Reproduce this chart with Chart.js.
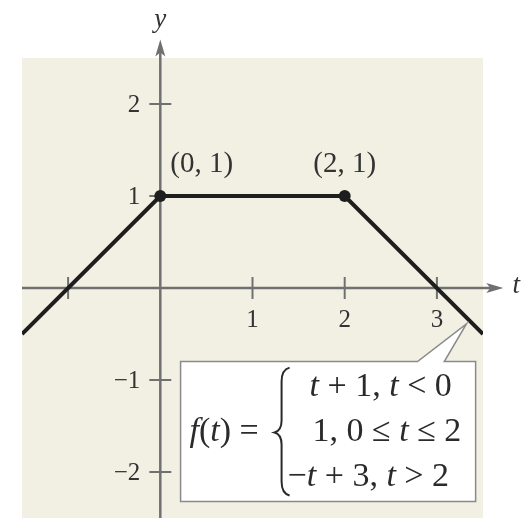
<!DOCTYPE html>
<html>
<head>
<meta charset="utf-8">
<script src="https://cdn.jsdelivr.net/npm/chart.js@4.4.1/dist/chart.umd.min.js"></script>
<style>
  body { margin: 0; background: #fff; }
  #wrap { width: 523px; height: 518px; }
</style>
</head>
<body>
<div id="wrap"><canvas id="graph" width="523" height="518"></canvas></div>
<script>
// piecewise f(t): corner points of the graph
const tValues = [-1.5, 0, 2, 3.5];
const fValues = [-0.5, 1, 1, -0.5];
const dotRadius = [0, 6, 6, 0];

// axis ticks
const xTicks = [-1, 1, 2, 3];
const xTickLabels = ["", "1", "2", "3"];
const yTicks = [2, 1, -1, -2];
const yTickLabels = ["2", "1", "\u22121", "\u22122"];

// labelled points
const pointLabels = ["(0, 1)", "(2, 1)"];
const labelAt = [[0, 1], [2, 1]];

const SERIF = '"Liberation Serif", "DejaVu Serif", serif';
const AXIS = '#707070';
const BG = '#f2f0e3';

// draw a run of [text, italic] pieces starting at x
function drawRuns(ctx, runs, x, y, size) {
  runs.forEach(([txt, it]) => {
    ctx.font = (it ? 'italic ' : '') + size + 'px ' + SERIF;
    ctx.fillText(txt, x, y);
    x += ctx.measureText(txt).width;
  });
}

const decorPlugin = {
  id: 'decor',
  beforeDatasetsDraw(chart) {
    const { ctx, chartArea: a, scales: { x, y } } = chart;
    ctx.save();
    ctx.fillStyle = BG;
    ctx.fillRect(a.left, a.top, a.right - a.left, a.bottom - a.top);

    const x0 = x.getPixelForValue(0);
    const y0 = y.getPixelForValue(0);
    ctx.strokeStyle = AXIS;
    ctx.fillStyle = AXIS;
    ctx.lineWidth = 2.5;

    // x axis with arrow
    const xEnd = x.getPixelForValue(3.72);
    ctx.beginPath();
    ctx.moveTo(a.left, y0);
    ctx.lineTo(xEnd - 10, y0);
    ctx.stroke();
    ctx.beginPath();
    ctx.moveTo(xEnd, y0);
    ctx.lineTo(xEnd - 17, y0 - 5);
    ctx.lineTo(xEnd - 13, y0);
    ctx.lineTo(xEnd - 17, y0 + 5);
    ctx.closePath();
    ctx.fill();

    // y axis with arrow
    const yEnd = y.getPixelForValue(2.7);
    ctx.beginPath();
    ctx.moveTo(x0, a.bottom);
    ctx.lineTo(x0, yEnd + 10);
    ctx.stroke();
    ctx.beginPath();
    ctx.moveTo(x0, yEnd);
    ctx.lineTo(x0 - 5, yEnd + 17);
    ctx.lineTo(x0, yEnd + 13);
    ctx.lineTo(x0 + 5, yEnd + 17);
    ctx.closePath();
    ctx.fill();

    // ticks
    ctx.lineWidth = 2;
    xTicks.forEach((v) => {
      const px = x.getPixelForValue(v);
      ctx.beginPath();
      ctx.moveTo(px, y0 - 11);
      ctx.lineTo(px, y0 + 11);
      ctx.stroke();
    });
    yTicks.forEach((v) => {
      const py = y.getPixelForValue(v);
      ctx.beginPath();
      ctx.moveTo(x0 - 11, py);
      ctx.lineTo(x0 + 11, py);
      ctx.stroke();
    });

    // tick labels
    ctx.fillStyle = '#333';
    ctx.font = '25px ' + SERIF;
    ctx.textBaseline = 'middle';
    ctx.textAlign = 'center';
    xTicks.forEach((v, i) => {
      if (xTickLabels[i]) ctx.fillText(xTickLabels[i], x.getPixelForValue(v), y0 + 32);
    });
    ctx.textAlign = 'right';
    yTicks.forEach((v, i) => {
      ctx.fillText(yTickLabels[i], x0 - 20, y.getPixelForValue(v) + 1);
    });

    // axis titles
    ctx.textAlign = 'center';
    ctx.font = 'italic 27px ' + SERIF;
    ctx.fillText('t', xEnd + 13, y0 - 2);
    ctx.fillText('y', x0, yEnd - 20);
    ctx.restore();
  },
  afterDatasetsDraw(chart) {
    const { ctx, scales: { x, y } } = chart;
    ctx.save();
    ctx.fillStyle = '#333';
    ctx.textBaseline = 'middle';
    ctx.font = '29px ' + SERIF;
    // point labels
    ctx.textAlign = 'left';
    ctx.fillText(pointLabels[0], x.getPixelForValue(labelAt[0][0]) + 10, y.getPixelForValue(labelAt[0][1]) - 32);
    ctx.textAlign = 'center';
    ctx.fillText(pointLabels[1], x.getPixelForValue(labelAt[1][0]), y.getPixelForValue(labelAt[1][1]) - 32);

    // formula box in data units
    const bl = x.getPixelForValue(0.22), br = x.getPixelForValue(3.42);
    const bt = y.getPixelForValue(-0.8), bb = y.getPixelForValue(-2.32);
    const pa = x.getPixelForValue(2.79), pb = x.getPixelForValue(3.08);
    const tipX = x.getPixelForValue(3.32), tipY = y.getPixelForValue(-0.39);

    ctx.fillStyle = '#fff';
    ctx.strokeStyle = '#8a8a8a';
    ctx.lineWidth = 1.5;
    ctx.beginPath();
    ctx.moveTo(bl, bt);
    ctx.lineTo(pa, bt);
    ctx.lineTo(tipX, tipY);
    ctx.lineTo(pb, bt);
    ctx.lineTo(br, bt);
    ctx.lineTo(br, bb);
    ctx.lineTo(bl, bb);
    ctx.closePath();
    ctx.fill();
    ctx.stroke();

    // formula text
    ctx.fillStyle = '#2a2a2a';
    ctx.textAlign = 'left';
    const midY = (bt + bb) / 2 + 1;
    const size = 34;
    drawRuns(ctx, [['f', 1], ['(', 0], ['t', 1], [') =', 0]], bl + 9, midY, size);

    // brace
    const bx = bl + 96;
    const top = bt + 6, bot = bb - 6;
    ctx.strokeStyle = '#2a2a2a';
    ctx.lineWidth = 2;
    ctx.beginPath();
    ctx.moveTo(bx + 13, top);
    ctx.quadraticCurveTo(bx + 5, top + 2, bx + 5, top + 14);
    ctx.lineTo(bx + 5, midY - 12);
    ctx.quadraticCurveTo(bx + 5, midY - 2, bx - 2, midY);
    ctx.quadraticCurveTo(bx + 5, midY + 2, bx + 5, midY + 12);
    ctx.lineTo(bx + 5, bot - 14);
    ctx.quadraticCurveTo(bx + 5, bot - 2, bx + 13, bot);
    ctx.stroke();

    const dy = 45;
    drawRuns(ctx, [['t', 1], [' + 1, ', 0], ['t', 1], [' < 0', 0]], bx + 33, midY - dy, size);
    drawRuns(ctx, [['1, 0 \u2264 ', 0], ['t', 1], [' \u2264 2', 0]], bx + 36, midY, size);
    drawRuns(ctx, [['\u2212', 0], ['t', 1], [' + 3, ', 0], ['t', 1], [' > 2', 0]], bx + 11, midY + dy, size);
    ctx.restore();
  }
};

new Chart(document.getElementById('graph'), {
  type: 'line',
  data: {
    datasets: [{
      data: tValues.map((t, i) => ({ x: t, y: fValues[i] })),
      borderColor: '#1e1e1e',
      borderWidth: 4,
      pointRadius: dotRadius,
      pointBackgroundColor: '#1e1e1e',
      pointBorderWidth: 0,
      tension: 0,
      fill: false
    }]
  },
  options: {
    responsive: false,
    animation: false,
    layout: { padding: { left: 22, right: 40, top: 58, bottom: 0 } },
    scales: {
      x: { type: 'linear', min: -1.5, max: 3.5, display: false },
      y: { type: 'linear', min: -2.5, max: 2.5, display: false }
    },
    plugins: { legend: { display: false }, tooltip: { enabled: false } }
  },
  plugins: [decorPlugin]
});
</script>
</body>
</html>
